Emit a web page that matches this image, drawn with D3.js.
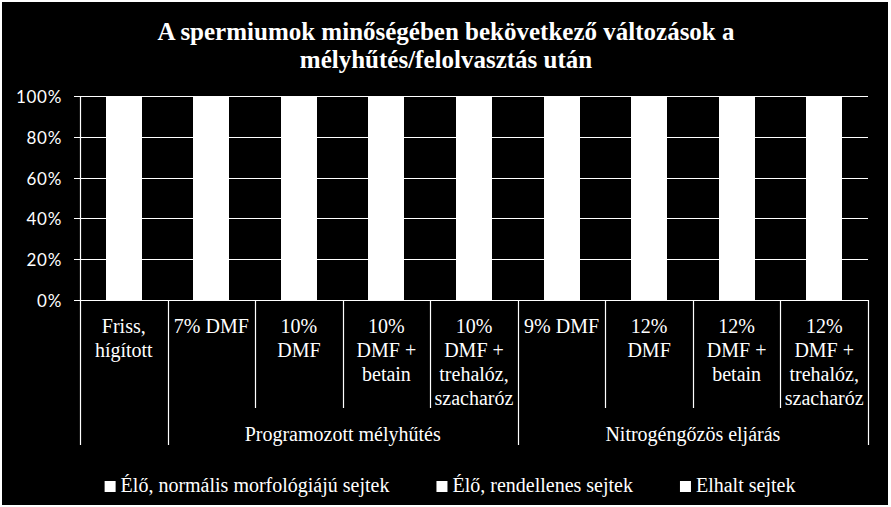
<!DOCTYPE html>
<html>
<head>
<meta charset="utf-8">
<script src="https://cdn.jsdelivr.net/npm/d3@7"></script>
<style>
  html, body { margin: 0; padding: 0; background: #ffffff; }
  svg { display: block; }
</style>
</head>
<body>
<svg id="chart" width="891" height="507"></svg>
<script>
// ---- data ----
const titleLines = ["A spermiumok minőségében bekövetkező változások a", "mélyhűtés/felolvasztás után"];
const categories = ["Friss, hígított", "7% DMF", "10% DMF", "10% DMF + betain", "10% DMF + trehalóz, szacharóz",
                    "9% DMF", "12% DMF", "12% DMF + betain", "12% DMF + trehalóz, szacharóz"];
const categoryLines = [["Friss,", "hígított"], ["7% DMF"], ["10%", "DMF"], ["10%", "DMF +", "betain"],
                       ["10%", "DMF +", "trehalóz,", "szacharóz"], ["9% DMF"], ["12%", "DMF"],
                       ["12%", "DMF +", "betain"], ["12%", "DMF +", "trehalóz,", "szacharóz"]];
const groups = ["", "Programozott mélyhűtés", "Nitrogéngőzös eljárás"];
const groupOfCategory = [0, 1, 1, 1, 1, 2, 2, 2, 2];
const seriesNames = ["Élő, normális morfológiájú sejtek", "Élő, rendellenes sejtek", "Elhalt sejtek"];
// percentages (bars are rendered all white in the reference; values estimated)
const normalValues   = [72, 30, 34, 38, 40, 28, 33, 36, 39];
const abnormalValues = [18, 25, 24, 22, 21, 26, 24, 23, 22];
const deadValues     = [10, 45, 42, 40, 39, 46, 43, 41, 39];
const yTicks = [0, 0.2, 0.4, 0.6, 0.8, 1.0];

// ---- layout ----
const svg = d3.select("#chart");
const W = 891, H = 507;
const plot = { left: 80, right: 868, top: 96, bottom: 300 };
const white = "#ffffff";

svg.append("rect").attr("x", 0).attr("y", 0).attr("width", W).attr("height", H).attr("fill", white);
svg.append("rect").attr("x", 2).attr("y", 2).attr("width", 886).attr("height", 503).attr("fill", "#000000");

// title
svg.append("g").selectAll("text").data(titleLines).join("text")
  .attr("x", 446).attr("y", (d, i) => 40 + i * 28)
  .attr("text-anchor", "middle")
  .attr("font-family", "'Times New Roman', 'Liberation Serif', serif")
  .attr("font-weight", "bold").attr("font-size", 25)
  .attr("fill", white).text(d => d);

// scales
const pad = 1 - 36 / ((plot.right - plot.left) / categories.length);
const x = d3.scaleBand().domain(categories).range([plot.left, plot.right])
  .paddingInner(pad).paddingOuter(pad / 2);
const y = d3.scaleLinear().domain([0, 1]).range([plot.bottom, plot.top]);

// gridlines
svg.append("g").selectAll("line").data(yTicks).join("line")
  .attr("x1", plot.left - 6).attr("x2", plot.right)
  .attr("y1", d => Math.round(y(d)) + 0.5).attr("y2", d => Math.round(y(d)) + 0.5)
  .attr("stroke", white).attr("stroke-width", 1.2);

// y tick labels
svg.append("g").selectAll("text").data(yTicks).join("text")
  .attr("x", 62).attr("y", d => y(d) + 7)
  .attr("text-anchor", "end")
  .attr("font-family", "Lato, 'Open Sans', sans-serif")
  .attr("font-size", 17).attr("letter-spacing", 0.7)
  .attr("fill", white).text(d3.format(".0%"));

// stacked bars
const rows = categories.map((c, i) => ({
  cat: c,
  [seriesNames[0]]: normalValues[i] / 100,
  [seriesNames[1]]: abnormalValues[i] / 100,
  [seriesNames[2]]: deadValues[i] / 100
}));
const stack = d3.stack().keys(seriesNames).offset(d3.stackOffsetExpand)(rows);
const barColors = [white, white, white];
svg.append("g").attr("shape-rendering", "crispEdges")
  .selectAll("g").data(stack).join("g")
  .attr("fill", (d, i) => barColors[i])
  .selectAll("rect").data(d => d).join("rect")
  .attr("x", d => x(d.data.cat))
  .attr("width", x.bandwidth())
  .attr("y", d => y(d[1]) - 0.5)
  .attr("height", d => y(d[0]) - y(d[1]) + 1);

// y axis line
svg.append("line").attr("x1", plot.left + 0.5).attr("x2", plot.left + 0.5)
  .attr("y1", plot.top).attr("y2", 445).attr("stroke", white).attr("stroke-width", 1.2);

// category dividers
const step = x.step();
const boundaries = d3.range(1, categories.length + 1).map(i => {
  const isGroupBoundary = i === categories.length || groupOfCategory[i] !== groupOfCategory[i - 1];
  return { pos: plot.left + i * step, long: isGroupBoundary };
});
svg.append("g").selectAll("line").data(boundaries).join("line")
  .attr("x1", d => Math.round(d.pos) + 0.5).attr("x2", d => Math.round(d.pos) + 0.5)
  .attr("y1", plot.bottom).attr("y2", d => d.long ? 445 : 408)
  .attr("stroke", white).attr("stroke-width", 1.2);

// category labels
const catG = svg.append("g")
  .attr("font-family", "'Times New Roman', 'Liberation Serif', serif")
  .attr("font-size", 20).attr("fill", white);
categories.forEach((c, i) => {
  const cx = x(c) + x.bandwidth() / 2;
  catG.append("text").attr("text-anchor", "middle")
    .selectAll("tspan").data(categoryLines[i]).join("tspan")
    .attr("x", cx).attr("y", (d, k) => 333 + k * 24).text(d => d);
});

// group labels
groups.forEach((g, gi) => {
  if (!g) return;
  const members = categories.filter((c, i) => groupOfCategory[i] === gi);
  const x0 = x(members[0]) - (step - x.bandwidth()) / 2;
  const x1 = x(members[members.length - 1]) + x.bandwidth() + (step - x.bandwidth()) / 2;
  catG.append("text").attr("text-anchor", "middle")
    .attr("x", (x0 + x1) / 2).attr("y", 441).text(g);
});

// legend
const legend = svg.append("g")
  .attr("font-family", "'Times New Roman', 'Liberation Serif', serif")
  .attr("font-size", 20).attr("fill", white);
const items = seriesNames.map((s, i) => {
  const g = legend.append("g");
  g.append("rect").attr("x", 0).attr("y", -11).attr("width", 11).attr("height", 11).attr("fill", barColors[i]);
  const t = g.append("text").attr("x", 16).attr("y", 0).text(s);
  return { g, w: 16 + t.node().getComputedTextLength() };
});
const gap = 47;
const total = d3.sum(items, d => d.w) + gap * (items.length - 1);
let lx = 450 - total / 2;
items.forEach(it => { it.g.attr("transform", `translate(${lx},492)`); lx += it.w + gap; });
</script>
</body>
</html>
